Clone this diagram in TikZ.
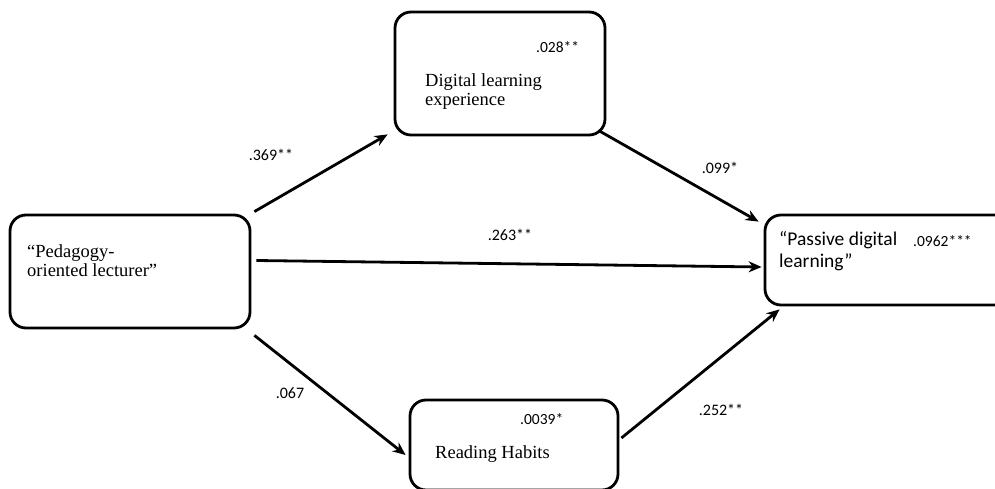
\documentclass[tikz,border=0pt]{standalone}
\usepackage{fontspec}
\setmainfont{Liberation Serif}
\newfontfamily\labelfont{Carlito}
\usetikzlibrary{arrows.meta}

\tikzset{
  varbox/.style = {draw, line width=2.8pt, rounded corners=16pt, inner sep=0pt},
  path/.style = {-{Stealth[length=13pt,width=11pt]}, line width=2.8pt},
  coef/.style = {font=\labelfont\fontsize{16}{18}\selectfont, inner sep=0pt},
  rsq/.style = {font=\labelfont\fontsize{15.5}{18}\selectfont, inner sep=0pt, anchor=west},
  boxtext/.style = {font=\fontsize{18.5}{19}\selectfont, align=left, anchor=north west, inner sep=0pt},
}

\begin{document}
\begin{tikzpicture}[x=1pt, y=-1pt]
	\useasboundingbox (0,0) rectangle (995,489);
	\clip (0,0) rectangle (995,489);
	% variables
	\node[varbox, minimum width=240pt, minimum height=113pt] (lecturer) at (130,271.5) {};
	\node[varbox, minimum width=210pt, minimum height=123pt] (digital) at (500,73.5) {};
	\node[varbox, minimum width=250pt, minimum height=90pt] (passive) at (890,260) {};
	\node[varbox, minimum width=208pt, minimum height=90pt] (habits) at (514,445) {};
	% texts
	\node[boxtext] (lecturertext) at (27,244) {“Pedagogy-\\oriented lecturer”};
	\node[boxtext] (digitaltext) at (425,73) {Digital learning\\experience};
	\node[boxtext] (habitstext) at (435,445) {Reading Habits};
	\node[boxtext, font=\labelfont\fontsize{19.5}{22}\selectfont] (passivetext) at (779,231) {“Passive digital\\learning”};
	\node[rsq] (r2digital) at (536,47) {.028**};
	\node[rsq] (r2habits) at (520,419) {.0039*};
	\node[rsq] (r2passive) at (913,241) {.0962***};
	% paths
	\draw[path] ([shift={(3pt,2pt)}]lecturer.north east) -- ([shift={(-6pt,2pt)}]digital.south west);
	\draw[path] ([shift={(-8pt,6pt)}]digital.south east) -- ([shift={(-5pt,-8pt)}]passive.north west);
	\draw[path] ([shift={(5pt,11pt)}]lecturer.east) -- ([shift={(-2pt,-7pt)}]passive.west);
	\draw[path] ([shift={(3pt,-6pt)}]lecturer.south east) -- ([shift={(-3pt,-10pt)}]habits.west);
	\draw[path] ([shift={(2pt,7pt)}]habits.east) -- ([shift={(16pt,-3pt)}]passive.south west);
	% coefficients
	\node[coef] (a) at (271,155) {.369**};
	\node[coef] (b) at (720,168) {.099*};
	\node[coef] (c) at (510,235) {.263**};
	\node[coef] (d) at (290,393) {.067};
	\node[coef] (e) at (721,410) {.252**};
\end{tikzpicture}
\end{document}
